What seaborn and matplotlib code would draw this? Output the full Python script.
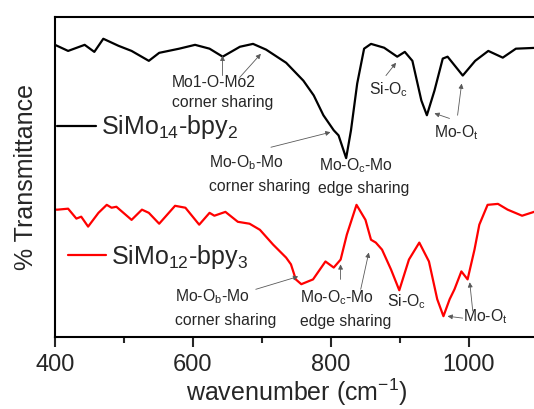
import numpy as np
import pandas as pd
import matplotlib
matplotlib.use("Agg")
import matplotlib.pyplot as plt
import seaborn as sns
from matplotlib.ticker import MultipleLocator

# ---- data ----
wn_black = [400, 419, 443, 457, 470, 492, 511, 536, 551, 580, 603, 624, 643, 668, 687,
            706, 735, 760, 775, 789, 804, 811, 822, 829, 838, 848, 858, 877, 896, 907,
            918, 931, 939, 950, 962, 969, 991, 1009, 1028, 1049, 1068, 1101]
t_black = [91.3, 89.4, 91.3, 89.1, 93.2, 91.0, 89.4, 86.3, 88.8, 90.1, 91.3, 90.1, 87.6, 90.7, 91.6,
           89.8, 85.7, 80.1, 75.5, 69.3, 64.6, 63.0, 55.9, 64.6, 79.2, 90.1, 91.6, 90.4, 87.6, 89.1,
           86.3, 73.9, 69.3, 77.0, 87.0, 87.6, 81.7, 86.3, 89.4, 87.3, 90.1, 90.4]

wn_red = [400, 404, 419, 431, 438, 448, 463, 475, 482, 489, 511, 526, 536, 551, 574, 589,
          609, 624, 631, 647, 665, 682, 697, 716, 735, 742, 749, 757, 774, 792, 804, 814,
          823, 837, 850, 858, 865, 874, 887, 899, 913, 928, 942, 954, 963, 972, 979, 989,
          998, 1008, 1015, 1027, 1042, 1056, 1077, 1100]
t_red = [39.8, 39.8, 40.1, 37.0, 37.6, 34.5, 38.8, 41.3, 40.4, 40.7, 36.6, 39.8, 38.8, 35.4, 41.0, 40.4,
         35.1, 38.8, 37.9, 39.1, 36.0, 35.4, 33.5, 28.9, 24.8, 22.7, 18.0, 16.5, 18.0, 23.6, 21.7, 24.2,
         32.0, 41.3, 36.6, 30.4, 29.5, 27.3, 21.1, 14.6, 24.2, 29.5, 23.6, 11.8, 6.5, 11.8, 14.9, 20.5,
         18.0, 27.3, 35.1, 41.3, 41.6, 39.8, 37.9, 39.5]

label_black = "SiMo$_{14}$-bpy$_{2}$"
label_red = "SiMo$_{12}$-bpy$_{3}$"
x_ticks = [400, 600, 800, 1000]

df = pd.concat([
    pd.DataFrame({"wn": wn_black, "T": t_black, "sample": label_black}),
    pd.DataFrame({"wn": wn_red, "T": t_red, "sample": label_red}),
])

# ---- style ----
sns.set_style("ticks")
plt.rcParams["font.family"] = ["Liberation Sans", "DejaVu Sans"]
plt.rcParams["mathtext.default"] = "regular"

fig = plt.figure(figsize=(5.34, 4.09), dpi=100)
ax = fig.add_axes([55 / 534, 1 - 337 / 409, 1 - 55 / 534 + 0.01, 320 / 409])

sns.lineplot(data=df, x="wn", y="T", hue="sample", sort=False,
             palette={label_black: "black", label_red: "#ff0000"},
             linewidth=1.6, ax=ax, legend=False, estimator=None)

ax.set_xlim(400, 1102)
ax.set_ylim(0, 100)
ax.set_xticks(x_ticks)
ax.xaxis.set_minor_locator(MultipleLocator(100))
ax.set_yticks([])
ax.tick_params(axis="x", which="major", direction="out", length=7, width=1.5,
               labelsize=17, pad=5)
ax.tick_params(axis="x", which="minor", direction="out", length=4, width=1.5)
for s in ["left", "bottom", "top"]:
    ax.spines[s].set_linewidth(1.5)
    ax.spines[s].set_color("black")
ax.spines["right"].set_visible(False)

ax.set_xlabel("wavenumber (cm$^{-1}$)", fontsize=18, labelpad=1)
ax.set_ylabel("% Transmittance", fontsize=18, labelpad=12)

# ---- legends ----
lines = ax.get_lines()
leg1 = ax.legend([lines[0]], [label_black], loc="center left",
                 bbox_to_anchor=(0.004, 0.655), frameon=False, fontsize=18,
                 handlelength=1.55, handletextpad=0.2, borderpad=0, borderaxespad=0)
ax.add_artist(leg1)
leg2 = ax.legend([lines[1]], [label_red], loc="center left",
                 bbox_to_anchor=(0.026, 0.25), frameon=False, fontsize=18,
                 handlelength=1.55, handletextpad=0.2, borderpad=0, borderaxespad=0)

# ---- annotations ----
fs = 11.3
arr = dict(arrowstyle="-|>", color="0.35", lw=0.6, mutation_scale=7, shrinkA=0, shrinkB=0)

def txt(x, y, s):
    ax.text(x, y, s, fontsize=fs, ha="left", va="baseline")

def arrow(x0, y0, x1, y1):
    ax.annotate("", xy=(x1, y1), xytext=(x0, y0), arrowprops=arr)

# black curve
txt(569.7, 78.0, "Mo1-O-Mo2")
txt(569.7, 72.0, "corner sharing")
arrow(642.8, 81.7, 642.8, 87.9)
arrow(667.6, 81.1, 698.4, 88.5)
txt(854.8, 75.8, "Si-O$_c$")
arrow(879.7, 81.7, 894.3, 85.7)
txt(949.9, 62.4, "Mo-O$_t$")
arrow(971.8, 68.3, 949.9, 69.9)
arrow(983.5, 69.3, 989.4, 79.2)
txt(623.8, 53.1, "Mo-O$_b$-Mo")
txt(623.8, 45.6, "corner sharing")
arrow(713.0, 59.3, 799.3, 64.0)
txt(783.2, 52.2, "Mo-O$_c$-Mo")
txt(781.8, 45.0, "edge sharing")

# red curve
txt(574.0, 11.2, "Mo-O$_b$-Mo")
txt(574.0, 3.7, "corner sharing")
arrow(691.0, 14.9, 752.5, 18.9)
txt(755.4, 10.9, "Mo-O$_c$-Mo")
txt(755.4, 3.4, "edge sharing")
arrow(813.9, 18.0, 813.9, 22.7)
arrow(843.1, 14.9, 854.8, 26.4)
txt(881.2, 9.6, "Si-O$_c$")
txt(990.9, 5.0, "Mo-O$_t$")
arrow(990.9, 5.9, 968.9, 6.5)
arrow(1005.5, 8.1, 1001.1, 17.1)

fig.savefig("out.png", dpi=100)
